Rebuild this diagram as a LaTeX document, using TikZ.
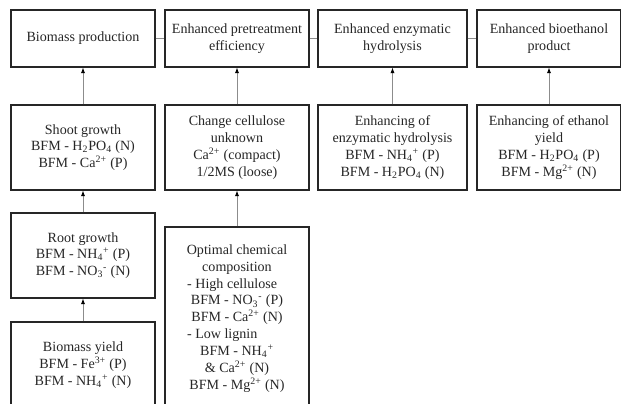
\documentclass[tikz,border=0pt]{standalone}
\usepackage{fontspec}
\setmainfont{Liberation Serif}
\usetikzlibrary{arrows.meta,positioning}
\newcommand{\subsup}[2]{\textsubscript{#1}\textsuperscript{#2}}

\begin{document}
\begin{tikzpicture}[x=0.025cm,y=-0.025cm]

% TikZ styles
\tikzset{
  stage/.style={rectangle, draw=black!85, line width=0.8pt, minimum width=3.6cm, minimum height=1.425cm, align=center, text=black!85, font=\fontsize{10}{12}\selectfont},
  factor/.style={stage, minimum height=2.125cm},
  link/.style={draw=black!45, line width=0.6pt},
  arrow/.style={link, -{Latex[color=black, length=4pt, width=3pt]}}
}

\useasboundingbox (0,0) rectangle (621,403);
\clip (0,0) rectangle (621,403);

%==========================
% Top row: outcomes
%==========================
\node[stage] (biomass) at (83,38.5) {Biomass production};
\node[stage] (pretreat) at (237,38.5) {Enhanced pretreatment\\efficiency};
\node[stage, minimum width=3.725cm] (hydro) at (392.5,38.5) {Enhanced enzymatic\\hydrolysis};
\node[stage] (ethanol) at (549,38.5) {Enhanced bioethanol\\product};

%==========================
% Lower rows: effects of BFM
%==========================
\node[factor] (shoot) at (83,147.5) {Shoot growth\\BFM - H\textsubscript{2}PO\textsubscript{4} (N)\\BFM - Ca\textsuperscript{2+} (P)};
\node[factor] (cellulose) at (237,147.5) {Change cellulose\\unknown\\Ca\textsuperscript{2+} (compact)\\1/2MS (loose)};
\node[factor, minimum width=3.725cm] (enzyme) at (392.5,147.5) {Enhancing of\\enzymatic hydrolysis\\BFM - NH\subsup{4}{+} (P)\\BFM - H\textsubscript{2}PO\textsubscript{4} (N)};
\node[factor] (ethyield) at (549,147.5) {Enhancing of ethanol\\yield\\BFM - H\textsubscript{2}PO\textsubscript{4} (P)\\BFM - Mg\textsuperscript{2+} (N)};

\node[factor] (root) at (83,255.5) {Root growth\\BFM - NH\subsup{4}{+} (P)\\BFM - NO\subsup{3}{-} (N)};
\node[factor, minimum height=2.15cm] (bioyield) at (83,365) {Biomass yield\\BFM - Fe\textsuperscript{3+} (P)\\BFM - NH\subsup{4}{+} (N)};

\node[factor, minimum height=4.575cm] (optimal) at (237,318.5) {Optimal chemical\\composition\\- High cellulose\rule{7pt}{0pt}\\BFM - NO\subsup{3}{-} (P)\\BFM - Ca\textsuperscript{2+} (N)\\- Low lignin\rule{21pt}{0pt}\\BFM - NH\subsup{4}{+}\\\& Ca\textsuperscript{2+} (N)\\BFM - Mg\textsuperscript{2+} (N)};

% links between outcomes
\draw[link] (biomass.east) -- (pretreat.west);
\draw[link] (pretreat.east) -- (hydro.west);
\draw[link] (hydro.east) -- (ethanol.west);

% arrows upwards
\draw[arrow] (shoot.north) -- (biomass.south);
\draw[arrow] (root.north) -- (shoot.south);
\draw[arrow] (bioyield.north) -- (root.south);
\draw[arrow] (cellulose.north) -- (pretreat.south);
\draw[arrow] (optimal.north) -- (cellulose.south);
\draw[arrow] (enzyme.north) -- (hydro.south);
\draw[arrow] (ethyield.north) -- (ethanol.south);
\end{tikzpicture}
\end{document}
